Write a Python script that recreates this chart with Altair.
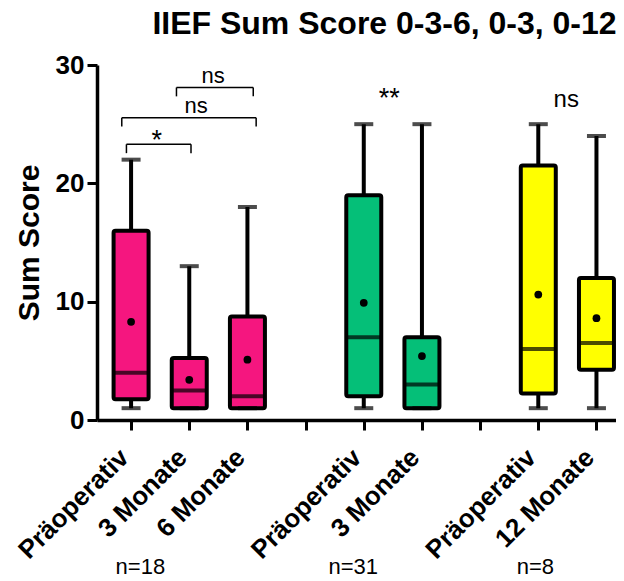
import altair as alt
import pandas as pd

# ---- data ----
categories = ["Präoperativ", "3 Monate", "6 Monate", "Präoperativ", "3 Monate", "Präoperativ", "12 Monate"]
positions = [1, 2, 3, 5, 6, 8, 9]
groups = ["A", "A", "A", "B", "B", "C", "C"]
whisker_min = [1, 1, 1, 1, 1, 1, 1]
q1 = [1.75, 1, 1, 2, 1, 2.25, 4.25]
median = [4, 2.5, 2, 7, 3, 6, 6.5]
q3 = [16, 5.25, 8.75, 19, 7, 21.5, 12]
whisker_max = [22, 13, 18, 25, 25, 25, 24]
mean = [8.3, 3.4, 5.1, 9.9, 5.4, 10.6, 8.6]
group_colors = {"A": "#F5167F", "B": "#05BF78", "C": "#FFFF00"}

n_labels = ["n=18", "n=31", "n=8"]
n_pos = [1.16, 4.82, 7.95]
n_y = [-13.0, -13.0, -13.0]

# significance brackets (x from, x to, y level, drop)
br_x1 = [0.92, 0.84, 1.78]
br_x2 = [2.03, 3.15, 3.10]
br_y = [23.3, 25.55, 28.1]
br_drop = [0.75, 0.75, 0.75]

sig_text = ["*", "ns", "ns", "**", "ns"]
sig_x = [1.44, 2.12, 2.41, 5.44, 8.48]
sig_y = [22.9, 25.95, 28.5, 26.45, 26.45]
sig_size = [27, 22, 22, 27, 24]

df = pd.DataFrame({
    "cat": categories, "pos": positions, "grp": groups,
    "wmin": whisker_min, "q1": q1, "med": median, "q3": q3,
    "wmax": whisker_max, "mean": mean,
})

xs = alt.Scale(domain=[0.5, 9.25], nice=False, zero=False)
ys = alt.Scale(domain=[0, 30], nice=False)

label_map = {p: c for p, c in zip(positions, categories)}
label_expr = " : ".join([f"datum.value == {p} ? '{c}'" for p, c in label_map.items()]) + " : ''"

FONT = "Liberation Sans"

x_axis = alt.Axis(values=list(range(1, 10)), labelExpr=label_expr, labelAngle=-45,
                  labelAlign="right", labelBaseline="middle", labelFontSize=26,
                  labelFontWeight="bold", labelFont=FONT, labelPadding=23,
                  labelOffset=-7,
                  tickSize=10, tickWidth=3, domainWidth=3.5, title=None, grid=False,
                  labelOverlap=False)
y_axis = alt.Axis(values=[0, 10, 20, 30], labelFontSize=26, labelFontWeight="bold",
                  labelFont=FONT, tickSize=10, tickWidth=3, domainWidth=3.5,
                  title="Sum Score", titleFontSize=30, titleFont=FONT,
                  titleFontWeight="bold", titlePadding=11, grid=False, labelPadding=3)

base = alt.Chart(df)

color = alt.Color("grp:N", scale=alt.Scale(domain=list(group_colors.keys()),
                                           range=list(group_colors.values())), legend=None)

whisker = base.mark_rule(color="black", strokeWidth=4).encode(
    x=alt.X("pos:Q", scale=xs, axis=x_axis),
    y=alt.Y("wmin:Q", scale=ys, axis=y_axis),
    y2="wmax:Q",
)
cap_lo = base.mark_tick(orient="horizontal", color="black", size=19, thickness=4).encode(
    x=alt.X("pos:Q", scale=xs), y=alt.Y("wmin:Q", scale=ys))
cap_hi = base.mark_tick(orient="horizontal", color="black", size=19, thickness=4).encode(
    x=alt.X("pos:Q", scale=xs), y=alt.Y("wmax:Q", scale=ys))
box = base.mark_bar(width=35, stroke="black", strokeWidth=4, cornerRadius=2,
                    strokeJoin="round").encode(
    x=alt.X("pos:Q", scale=xs), y=alt.Y("q1:Q", scale=ys), y2="q3:Q", color=color)
med = base.mark_tick(orient="horizontal", color="black", size=35, thickness=4).encode(
    x=alt.X("pos:Q", scale=xs), y=alt.Y("med:Q", scale=ys))
mn = base.mark_point(filled=True, color="black", size=60, opacity=1).encode(
    x=alt.X("pos:Q", scale=xs), y=alt.Y("mean:Q", scale=ys))

br = pd.DataFrame({"x1": br_x1, "x2": br_x2, "y": br_y, "drop": br_drop})
br["ylo"] = br["y"] - br["drop"]
br_h = alt.Chart(br).mark_rule(color="black", strokeWidth=1.5).encode(
    x=alt.X("x1:Q", scale=xs), x2="x2:Q", y=alt.Y("y:Q", scale=ys))
br_l = alt.Chart(br).mark_rule(color="black", strokeWidth=1.5).encode(
    x=alt.X("x1:Q", scale=xs), y=alt.Y("y:Q", scale=ys), y2="ylo:Q")
br_r = alt.Chart(br).mark_rule(color="black", strokeWidth=1.5).encode(
    x=alt.X("x2:Q", scale=xs), y=alt.Y("y:Q", scale=ys), y2="ylo:Q")

sig = pd.DataFrame({"t": sig_text, "x": sig_x, "y": sig_y, "s": sig_size})
sig_marks = alt.Chart(sig).mark_text(font=FONT, color="black", baseline="alphabetic",
                                     align="center").encode(
    x=alt.X("x:Q", scale=xs), y=alt.Y("y:Q", scale=ys), text="t:N",
    size=alt.Size("s:Q", scale=None, legend=None))

nd = pd.DataFrame({"t": n_labels, "x": n_pos, "y": n_y})
n_marks = alt.Chart(nd).mark_text(font=FONT, color="black", fontSize=22,
                                  baseline="alphabetic", align="center").encode(
    x=alt.X("x:Q", scale=xs), y=alt.Y("y:Q", scale=ys), text="t:N")

chart = alt.layer(whisker, box, cap_lo, cap_hi, med, mn, br_h, br_l, br_r,
                  sig_marks, n_marks).properties(
    width=519, height=355,
    autosize=alt.AutoSizeParams(type="none"),
    padding={"left": 89, "top": 57, "right": 0, "bottom": 161},
    title=alt.TitleParams("IIEF Sum Score 0-3-6, 0-3, 0-12", fontSize=32, font=FONT,
                          fontWeight="bold", anchor="middle", dx=28, offset=11,
                          color="black"),
).configure_view(stroke=None).configure_axis(
    domainColor="black", tickColor="black", labelColor="black", titleColor="black")

chart.save("out.html", embed_options={"renderer": "svg", "actions": False})
